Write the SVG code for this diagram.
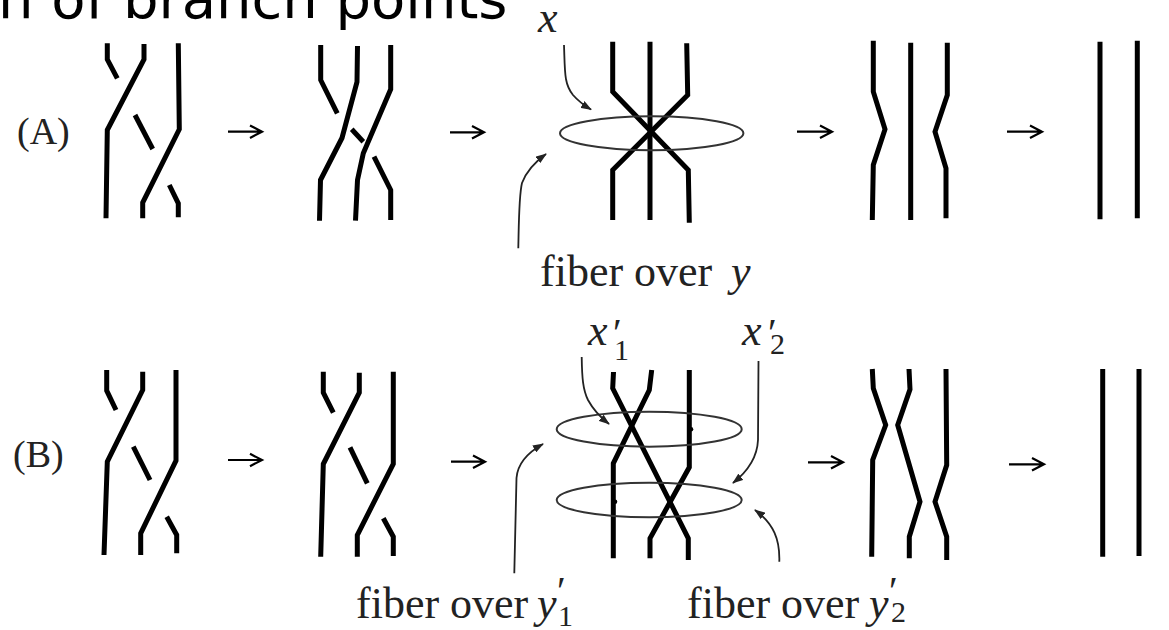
<svg xmlns="http://www.w3.org/2000/svg" width="1169" height="630" viewBox="0 0 1169 630">
<style>
.title{font-family:"DejaVu Sans",Verdana,sans-serif;font-size:56px;fill:#000}
.serif{font-family:"Liberation Serif","Times New Roman",serif;fill:#222}
.it{font-style:italic}
.br{fill:none;stroke:#000;stroke-width:5;stroke-linejoin:miter;stroke-linecap:butt}
.ell{fill:none;stroke:#333;stroke-width:2}
.arr{fill:none;stroke:#000;stroke-width:2.2}
.ptr{fill:none;stroke:#222;stroke-width:1.8}
</style>
<defs>
<marker id="ah" markerUnits="userSpaceOnUse" markerWidth="11" markerHeight="8" refX="10" refY="4" orient="auto">
<path d="M0,0 L11,4 L0,8 z" fill="#222"/>
</marker>
</defs>
<rect width="1169" height="630" fill="#fff"/>
<text class="title" x="-2" y="18">n of branch points</text>

<g id="labels" class="serif">
<text x="17" y="144" font-size="38">(A)</text>
<text x="13" y="467" font-size="38">(B)</text>
</g>

<g id="A1" class="br">
<path d="M107.3,43.3 V59.3 L117.3,78.3"/>
<path d="M144,44 V59.3 L107.3,130 L106,218.3"/>
<path d="M135,115 L152.7,149"/>
<path d="M178.3,43.3 L179.3,129.3 L142.7,202.7 V218.3"/>
<path d="M169.3,185 L178.3,203.3 V217.3"/>
</g>
<g id="A2" class="br">
<path d="M320.7,45 V80 L337.3,113.3"/>
<path d="M357.5,46 L357,82 L342,138 L320.5,180 L319.5,220.7"/>
<path d="M390.7,45 V89.3 L363.3,153.3 L357.5,180 L355.5,220.7"/>
<path d="M351.7,129.3 L363.3,141.7"/>
<path d="M374,156.7 L390.7,190 V220"/>
</g>
<g id="A3">
<g class="br">
<path d="M612.7,41.7 V91.7 L688.3,170 L689.3,222.7"/>
<path d="M650,41.7 V220"/>
<path d="M686.7,43.3 L687.7,95 L612.7,170 V220"/>
</g>
<ellipse class="ell" cx="651.7" cy="133.3" rx="91.7" ry="17"/>
<text class="serif it" x="538" y="32" font-size="44">x</text>
<text class="serif" x="540" y="286" font-size="44">fiber over <tspan class="it" x="731">y</tspan></text>
</g>
<g id="A4" class="br">
<path d="M873.3,40.7 V91.7 L885,129.3 L873.3,165 L872.3,220"/>
<path d="M910.7,42.7 V220"/>
<path d="M947.3,42.7 L947.3,95 L935,131.7 L946,168.3 V218.3"/>
</g>
<g id="A5" class="br">
<path d="M1100,41.7 V219.3"/>
<path d="M1137.3,40.7 V218.3"/>
</g>

<g id="B1" class="br">
<path d="M106.7,370 V390.7 L116,410"/>
<path d="M142.7,371.7 V390 L107.3,461.7 L104,555"/>
<path d="M176,370 V460.7 L140.7,533.3 V555"/>
<path d="M133.3,446.7 L150,480"/>
<path d="M166.7,516.7 L176.7,535 V553.3"/>
</g>
<g id="B2" class="br">
<path d="M323.3,371.7 V392.7 L333.3,412.7"/>
<path d="M359.3,372.7 V392.7 L323.3,464 L320.7,556.7"/>
<path d="M393.3,371.7 V464 L357.3,535 V556.7"/>
<path d="M350,447.3 L367.3,483.3"/>
<path d="M383.3,518.3 L393.3,536.7 V556"/>
</g>
<g id="B3">
<g class="br">
<path d="M613.5,372 L612.7,388.3 L688.3,538.3 V560"/>
<path d="M651.7,370 L649.3,390 L613.3,463.3 V558.3"/>
<path d="M689.3,370 V467.3 L650,538.3 V558.3"/>
</g>
<ellipse class="ell" cx="649.2" cy="429.2" rx="92.5" ry="17.5"/>
<ellipse class="ell" cx="649.2" cy="500" rx="92.5" ry="17.3"/>
<circle cx="691" cy="429.3" r="2.3" fill="#000"/>
<circle cx="615" cy="501.7" r="2.3" fill="#000"/>
<text class="serif it" x="588" y="345" font-size="44">x<tspan font-style="normal" x="613" y="346" font-size="40">′</tspan><tspan font-style="normal" x="614" y="360" font-size="30">1</tspan></text>
<text class="serif it" x="742" y="345" font-size="44">x<tspan font-style="normal" x="768" y="346" font-size="40">′</tspan><tspan font-style="normal" x="770" y="354" font-size="30">2</tspan></text>
<text class="serif" x="356" y="618" font-size="44">fiber over <tspan class="it" x="537">y</tspan><tspan x="557" y="604" font-size="40">′</tspan><tspan x="558" y="626" font-size="30">1</tspan></text>
<text class="serif" x="687" y="618" font-size="44">fiber over <tspan class="it" x="869">y</tspan><tspan x="889" y="604" font-size="40">′</tspan><tspan x="891" y="622" font-size="30">2</tspan></text>
</g>
<g id="B4" class="br">
<path d="M872.3,369 L873.3,388.3 L885.7,425 L872.7,460 L871.7,556.7"/>
<path d="M909,369 L910,389.3 L897.7,425 L920,501.7 L909.3,536.7 V558.3"/>
<path d="M946,369 L946.7,465 L935,501.7 L946.7,536.7 V560"/>
</g>
<g id="B5" class="br">
<path d="M1102.7,369 V556.7"/>
<path d="M1139,369 V556"/>
</g>

<g id="connectors">
<g class="arr">
<path d="M228,131.7 H262 M250,125.5 L262,131.7 L250,137.9"/>
<path d="M450,132.3 H484 M472,126.1 L484,132.3 L472,138.5"/>
<path d="M797,131.7 H832 M820,125.5 L832,131.7 L820,137.9"/>
<path d="M1007,131.7 H1042 M1030,125.5 L1042,131.7 L1030,137.9"/>
<path d="M228,460 H262 M250,453.8 L262,460 L250,466.2"/>
<path d="M451,461.7 H485 M473,455.5 L485,461.7 L473,467.9"/>
<path d="M808,462.3 H843 M831,456.1 L843,462.3 L831,468.5"/>
<path d="M1009,464.3 H1044 M1032,458.1 L1044,464.3 L1032,470.5"/>
</g>
<g class="ptr">
<path marker-end="url(#ah)" d="M564,45 C565,72 564,84 573,95 Q580,103 591,109.5"/>
<path marker-end="url(#ah)" d="M518.3,248.3 C519,215 519,195 522,183 Q528,167 546,154"/>
<path marker-end="url(#ah)" d="M581.7,357 C582,378 583,390 588,400 Q595,413 609,424"/>
<path marker-end="url(#ah)" d="M758.5,361 L758,440 Q757,464 733,483"/>
<path marker-end="url(#ah)" d="M514.3,573.3 L516.5,478 Q518,458 543,444"/>
<path marker-end="url(#ah)" d="M779.3,561.7 C780,540 774,524 755,510"/>
</g>
</g>
</svg>
